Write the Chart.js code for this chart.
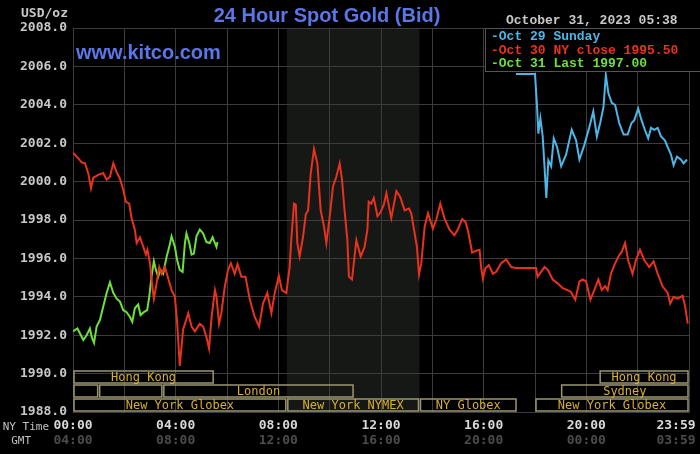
<!DOCTYPE html>
<html>
<head>
<meta charset="utf-8">
<script src="https://cdn.jsdelivr.net/npm/chart.js@4/dist/chart.umd.min.js"></script>
<style>
  html, body { margin: 0; padding: 0; background: #000; }
  canvas { display: block; }
</style>
</head>
<body>
<canvas id="gold" width="700" height="454"></canvas>
<script>
// 24h spot gold, NY time in hours
const redHours = [0, 0.15, 0.34, 0.47, 0.6, 0.7, 0.79, 0.98, 1.18, 1.31, 1.44, 1.57, 1.7, 1.83, 1.96, 2.06, 2.19, 2.28, 2.41, 2.48, 2.61, 2.74, 2.84, 2.9, 3.0, 3.06, 3.15, 3.23, 3.36, 3.45, 3.58, 3.71, 3.84, 3.97, 4.06, 4.16, 4.29, 4.49, 4.62, 4.75, 4.94, 5.07, 5.2, 5.3, 5.4, 5.53, 5.59, 5.69, 5.78, 5.91, 6.04, 6.15, 6.3, 6.41, 6.56, 6.72, 6.89, 7.08, 7.25, 7.4, 7.57, 7.73, 7.86, 8.02, 8.14, 8.31, 8.44, 8.51, 8.61, 8.68, 8.74, 8.83, 8.96, 9.07, 9.16, 9.26, 9.39, 9.52, 9.65, 9.78, 9.87, 10.0, 10.13, 10.26, 10.39, 10.48, 10.58, 10.69, 10.75, 10.87, 11.04, 11.21, 11.36, 11.47, 11.52, 11.62, 11.72, 11.86, 11.98, 12.11, 12.21, 12.4, 12.6, 12.75, 12.92, 13.09, 13.18, 13.31, 13.4, 13.48, 13.57, 13.7, 13.83, 14.02, 14.15, 14.31, 14.47, 14.67, 14.86, 14.99, 15.16, 15.29, 15.38, 15.48, 15.55, 15.71, 15.84, 15.9, 15.97, 16.07, 16.2, 16.36, 16.49, 16.68, 16.88, 17.07, 17.26, 18.04, 18.1, 18.37, 18.5, 18.69, 18.88, 19.08, 19.27, 19.4, 19.57, 19.73, 19.86, 19.99, 20.16, 20.31, 20.47, 20.6, 20.73, 20.83, 20.96, 21.09, 21.25, 21.38, 21.51, 21.63, 21.8, 21.93, 22.09, 22.26, 22.45, 22.62, 22.78, 22.97, 23.17, 23.27, 23.4, 23.55, 23.75, 23.85, 23.95]
const redValues = [2001.5, 2001.3, 2001.0, 2000.95, 2000.4, 1999.65, 2000.2, 2000.35, 2000.45, 2000.1, 2000.25, 2000.95, 2000.5, 2000.15, 1999.55, 1998.95, 1998.85, 1998.1, 1997.5, 1996.8, 1997.1, 1996.6, 1996.2, 1996.45, 1995.75, 1994.9, 1993.9, 1994.5, 1995.55, 1995.2, 1995.55, 1994.95, 1994.35, 1994.0, 1992.6, 1990.4, 1992.3, 1993.15, 1992.45, 1992.2, 1992.6, 1992.45, 1991.9, 1991.3, 1992.95, 1994.35, 1994.0, 1992.6, 1993.15, 1994.5, 1995.4, 1995.75, 1995.2, 1995.7, 1995.05, 1995.05, 1993.85, 1992.95, 1992.45, 1993.65, 1994.2, 1993.15, 1994.2, 1995.1, 1994.35, 1994.2, 1995.55, 1997.1, 1998.85, 1998.8, 1996.8, 1996.1, 1997.1, 1998.3, 1998.5, 2000.4, 2001.7, 2000.95, 1998.5, 1997.65, 1996.8, 1998.15, 1999.75, 2000.25, 2000.95, 2000.1, 1998.5, 1996.95, 1995.05, 1994.9, 1996.95, 1996.1, 1996.6, 1997.5, 1998.95, 1998.85, 1999.15, 1998.2, 1998.4, 1998.8, 1999.4, 1998.1, 1999.5, 1999.2, 1998.5, 1998.6, 1998.35, 1997.3, 1996.6, 1995.15, 1995.75, 1997.65, 1998.35, 1997.55, 1998.0, 1998.85, 1998.1, 1997.5, 1997.2, 1997.5, 1998.05, 1997.9, 1997.5, 1996.8, 1996.3, 1996.4, 1996.45, 1995.55, 1994.95, 1995.5, 1995.65, 1995.2, 1995.3, 1995.75, 1995.95, 1995.55, 1995.5, 1995.5, 1995.05, 1995.55, 1995.4, 1994.9, 1994.7, 1994.45, 1994.35, 1994.25, 1993.85, 1994.8, 1994.9, 1994.8, 1993.85, 1994.35, 1994.9, 1994.35, 1994.55, 1994.35, 1995.2, 1995.65, 1996.1, 1996.35, 1996.8, 1995.9, 1995.2, 1995.9, 1996.45, 1995.9, 1995.55, 1995.85, 1995.2, 1994.55, 1994.2, 1993.65, 1994.0, 1993.9, 1994.05, 1993.5, 1992.6]

const blueHours = [17.26, 18.0, 18.08, 18.13, 18.21, 18.3, 18.37, 18.44, 18.52, 18.63, 18.73, 18.86, 19.02, 19.21, 19.43, 19.6, 19.73, 19.92, 20.12, 20.27, 20.41, 20.54, 20.67, 20.76, 20.86, 20.99, 21.12, 21.28, 21.45, 21.61, 21.76, 21.87, 22.02, 22.15, 22.28, 22.41, 22.52, 22.65, 22.78, 22.91, 23.06, 23.17, 23.3, 23.4, 23.53, 23.68, 23.79, 23.92]
const blueValues = [2005.6, 2005.6, 2003.9, 2002.5, 2003.3, 2002.35, 2000.8, 1999.15, 2001.1, 2000.8, 2002.25, 2001.8, 2000.8, 2001.4, 2002.7, 2002.15, 2001.15, 2001.9, 2002.85, 2003.65, 2002.35, 2003.05, 2003.9, 2005.55, 2004.6, 2004.1, 2004.0, 2003.05, 2002.45, 2002.45, 2003.05, 2003.2, 2003.8, 2003.2, 2002.7, 2002.25, 2002.8, 2002.7, 2002.8, 2002.35, 2002.15, 2001.8, 2001.4, 2000.85, 2001.3, 2001.15, 2000.95, 2001.15]

const greenHours = [0, 0.17, 0.27, 0.4, 0.53, 0.66, 0.73, 0.82, 0.92, 1.05, 1.18, 1.31, 1.44, 1.57, 1.7, 1.83, 1.96, 2.09, 2.22, 2.31, 2.41, 2.54, 2.63, 2.76, 2.89, 2.97, 3.06, 3.15, 3.23, 3.32, 3.41, 3.51, 3.65, 3.75, 3.84, 3.97, 4.06, 4.16, 4.27, 4.36, 4.42, 4.53, 4.62, 4.71, 4.81, 4.94, 5.07, 5.2, 5.33, 5.44, 5.53, 5.59, 5.63]
const greenValues = [1992.2, 1992.35, 1992.1, 1991.75, 1992.0, 1992.35, 1991.9, 1991.6, 1992.45, 1992.8, 1993.5, 1994.2, 1994.75, 1994.2, 1993.9, 1993.75, 1993.3, 1993.2, 1992.95, 1992.7, 1993.4, 1993.6, 1993.05, 1993.2, 1993.3, 1994.0, 1995.05, 1995.85, 1995.4, 1995.05, 1995.4, 1995.2, 1996.1, 1996.6, 1997.15, 1996.6, 1995.9, 1995.4, 1995.3, 1996.8, 1997.3, 1996.8, 1996.2, 1996.25, 1997.15, 1997.5, 1997.3, 1996.85, 1996.8, 1997.1, 1996.8, 1996.6, 1996.85]

// trading sessions: name, start hour, end hour, row
const sessionNames = ['Hong Kong', '', '', 'London', 'New York Globex', 'New York NYMEX', 'NY Globex', 'Hong Kong', 'Sydney', 'New York Globex']
const sessionStart = [0, 0, 1, 3.5, 0, 8.33, 13.5, 20.5, 19, 18]
const sessionEnd = [5.5, 1, 3.5, 10.95, 8.33, 13.5, 17.3, 24, 24, 24]
const sessionRow = [0, 1, 1, 1, 2, 2, 2, 0, 1, 2]

const nymexShade = [8.33, 13.5]
const nyTicks = ['00:00', '04:00', '08:00', '12:00', '16:00', '20:00', '23:59']
const gmtTicks = ['04:00', '08:00', '12:00', '16:00', '20:00', '00:00', '03:59']
const tickHours = [0, 4, 8, 12, 16, 20, 24]

const zip = (xs, ys) => xs.map((x, i) => ({ x: x, y: ys[i] }))

const MONO = '"DejaVu Sans Mono", monospace'
const COURIER = '"Liberation Mono", monospace'

const chrome = {
  id: 'chrome',
  beforeDraw(chart) {
    const { ctx, chartArea: a, scales: { x } } = chart
    ctx.save()
    ctx.fillStyle = '#000'
    ctx.fillRect(0, 0, chart.width, chart.height)
    // NYMEX pit hours
    ctx.fillStyle = '#161816'
    const x0 = x.getPixelForValue(nymexShade[0])
    const x1 = x.getPixelForValue(nymexShade[1])
    ctx.fillRect(x0, a.top, x1 - x0, a.bottom - a.top)
    ctx.restore()
  },
  afterDatasetsDraw(chart) {
    const { ctx, chartArea: a, scales: { x } } = chart
    ctx.save()
    // session boxes along the bottom
    const rowH = 14
    ctx.strokeStyle = '#9c9670'
    ctx.lineWidth = 1.5
    ctx.font = '12px ' + MONO
    ctx.textAlign = 'center'
    ctx.textBaseline = 'middle'
    sessionNames.forEach((name, i) => {
      const top = a.bottom - rowH * (3 - sessionRow[i])
      const l = x.getPixelForValue(sessionStart[i])
      const r = x.getPixelForValue(sessionEnd[i])
      ctx.strokeRect(l + 1, top + 1, r - l - 2, rowH - 2)
      if (name) {
        ctx.fillStyle = '#d8ae36'
        ctx.fillText(name, (l + r) / 2, top + rowH / 2 + 1)
      }
    })

    // legend box
    ctx.fillStyle = '#000'
    ctx.fillRect(485, a.top + 1, 215, 43)
    ctx.strokeStyle = '#555'
    ctx.lineWidth = 1
    ctx.strokeRect(485.5, a.top + 0.5, 220, 43)
    ctx.font = 'bold 13px ' + COURIER
    ctx.textAlign = 'left'
    ctx.fillStyle = '#4cb6e6'
    ctx.fillText('-Oct 29 Sunday', 491, 37)
    ctx.fillStyle = '#e8321e'
    ctx.fillText('-Oct 30 NY close 1995.50', 491, 51)
    ctx.fillStyle = '#6ee03a'
    ctx.fillText('-Oct 31 Last 1997.00', 491, 64)
    ctx.restore()
  },
  afterDraw(chart) {
    const { ctx, scales: { x } } = chart
    ctx.save()
    ctx.textBaseline = 'middle'

    // title + site
    ctx.textAlign = 'center'
    ctx.fillStyle = '#5a76e8'
    ctx.font = 'bold 20px "Liberation Sans", Arial, sans-serif'
    ctx.fillText('24 Hour Spot Gold (Bid)', 327, 16)
    ctx.textAlign = 'left'
    ctx.fillText('www.kitco.com', 76, 53)

    ctx.font = 'bold 13px ' + MONO
    ctx.fillStyle = '#c8c8c8'
    ctx.fillText('USD/oz', 21, 14)
    ctx.font = 'bold 13px ' + COURIER
    ctx.fillText('October 31, 2023 05:38', 506, 21)

    // time axis, NY and GMT rows
    ctx.font = '11px ' + MONO
    ctx.fillStyle = '#c0c0c0'
    ctx.textAlign = 'right'
    ctx.fillText('NY Time', 49, 427)
    ctx.fillText('GMT', 31, 441)
    ctx.font = 'bold 13px ' + MONO
    tickHours.forEach((h, i) => {
      let px = x.getPixelForValue(h)
      if (i === tickHours.length - 1) px -= 13
      ctx.textAlign = 'center'
      ctx.fillStyle = '#d8d8d8'
      ctx.fillText(nyTicks[i], px, 426)
      ctx.fillStyle = '#4c4c4c'
      ctx.fillText(gmtTicks[i], px, 441)
    })
    ctx.restore()
  }
}

const gridColor = '#3c3c3c'

new Chart(document.getElementById('gold'), {
  type: 'line',
  data: {
    datasets: [
      { label: 'Oct 29 Sunday', data: zip(blueHours, blueValues), borderColor: '#4cb6e6' },
      { label: 'Oct 30 NY close', data: zip(redHours, redValues), borderColor: '#e8321e' },
      { label: 'Oct 31 Last', data: zip(greenHours, greenValues), borderColor: '#6ee03a' }
    ]
  },
  options: {
    responsive: false,
    animation: false,
    layout: { padding: { top: 28, right: 11, left: 0, bottom: 0 } },
    elements: {
      point: { radius: 0 },
      line: { borderWidth: 2, tension: 0 }
    },
    plugins: { legend: { display: false }, tooltip: { enabled: false } },
    scales: {
      x: {
        type: 'linear',
        min: 0,
        max: 24,
        ticks: { stepSize: 2, display: false },
        grid: { color: gridColor, drawTicks: false },
        border: { color: gridColor },
        afterFit: (s) => { s.height = 42 }
      },
      y: {
        min: 1988,
        max: 2008,
        ticks: {
          stepSize: 2,
          padding: 6,
          color: '#c8c8c8',
          font: { family: MONO, size: 13, weight: 'bold' },
          callback: (v) => v.toFixed(1)
        },
        grid: { color: gridColor, drawTicks: false },
        border: { color: gridColor },
        afterFit: (s) => { s.width = 73 }
      }
    }
  },
  plugins: [chrome]
})
</script>
</body>
</html>
